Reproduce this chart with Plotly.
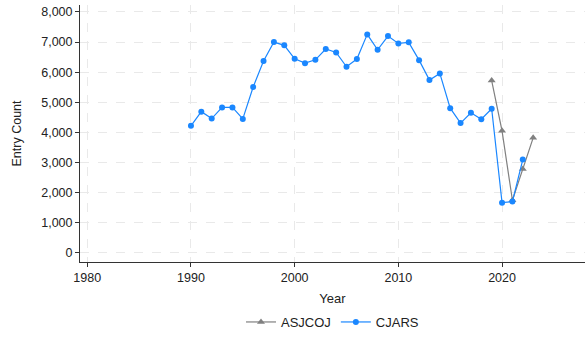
import plotly.graph_objects as go

cjars_years = list(range(1990, 2023))
cjars_values = [4220, 4690, 4460, 4830, 4830, 4450, 5510, 6370, 7000, 6890,
                6445, 6300, 6410, 6770, 6655, 6180, 6435, 7255, 6745, 7200,
                6955, 6990, 6400, 5740, 5960, 4805, 4310, 4650, 4440, 4785,
                1670, 1705, 3100]
asjcoj_years = [2019, 2020, 2021, 2022, 2023]
asjcoj_values = [5720, 4055, 1750, 2790, 3820]

x_ticks = [1980, 1990, 2000, 2010, 2020]
y_ticks = [0, 1000, 2000, 3000, 4000, 5000, 6000, 7000, 8000]

font = "Arial, Liberation Sans, sans-serif"

fig = go.Figure()
fig.add_trace(go.Scatter(
    x=asjcoj_years, y=asjcoj_values, name="ASJCOJ", mode="lines+markers",
    line=dict(color="#808080", width=1.2),
    marker=dict(symbol="triangle-up", size=7, color="#808080"),
))
fig.add_trace(go.Scatter(
    x=cjars_years, y=cjars_values, name="CJARS", mode="lines+markers",
    line=dict(color="#1a87ff", width=1.2),
    marker=dict(symbol="circle", size=6, color="#1a87ff"),
))

grid = dict(showgrid=True, gridcolor="#e9e9e9", gridwidth=1, griddash="dash",
            zeroline=False, showline=True, linecolor="#333333", linewidth=1,
            ticks="outside", ticklen=4, tickcolor="#333333", automargin=False,
            tickfont=dict(family=font, size=12.5, color="#222222"))

fig.update_layout(
    width=585, height=337,
    margin=dict(l=80, r=0, t=5, b=75),
    paper_bgcolor="white", plot_bgcolor="white",
    font=dict(family=font, size=12, color="#222222"),
    showlegend=True,
    legend=dict(orientation="h", x=0.5, xanchor="center", y=-0.235, yanchor="middle",
                font=dict(family=font, size=13), itemwidth=30),
    xaxis=dict(range=[1979.3, 2028], tickvals=x_ticks, ticktext=[str(t) for t in x_ticks],
               title=dict(text="Year", font=dict(family=font, size=13), standoff=9),
               **grid),
    yaxis=dict(range=[-300, 8230], tickvals=y_ticks, tickformat=",",
               title=dict(text="Entry Count", font=dict(family=font, size=12.5), standoff=16),
               **grid),
)

fig.write_html("out.html", config={"displayModeBar": False},
               post_script="document.body.style.margin='0';")
